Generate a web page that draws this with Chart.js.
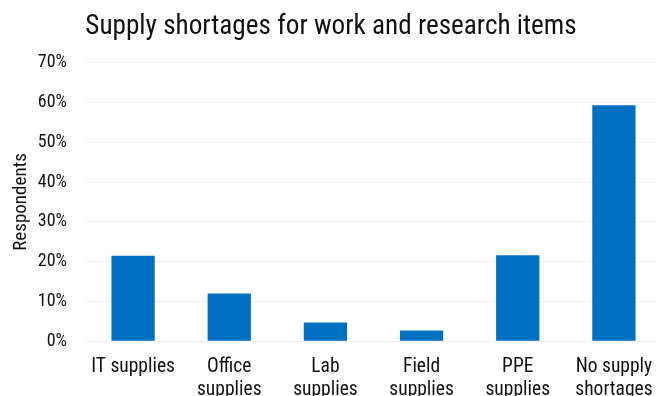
<!DOCTYPE html>
<html>
<head>
<meta charset="utf-8">
<script src="https://cdn.jsdelivr.net/npm/chart.js@4"></script>
<style>
  html, body { margin: 0; padding: 0; overflow: hidden; background: #fff; }
  #wrap { width: 662px; height: 416px; }
</style>
</head>
<body>
<div id="wrap"><canvas id="c"></canvas></div>
<script>
const categories = [
  ['IT supplies'],
  ['Office', 'supplies'],
  ['Lab', 'supplies'],
  ['Field', 'supplies'],
  ['PPE', 'supplies'],
  ['No supply', 'shortages']
];
const respondentShare = [21.5, 12.0, 4.7, 2.7, 21.6, 59.3];
const yTicks = [0, 10, 20, 30, 40, 50, 60, 70];

const FONT = "'Liberation Sans Narrow', 'Roboto Condensed', 'DejaVu Sans Condensed', Roboto, sans-serif";

new Chart(document.getElementById('c'), {
  type: 'bar',
  data: {
    labels: categories,
    datasets: [{
      data: respondentShare,
      backgroundColor: '#0070C0',
      borderWidth: 0,
      barPercentage: 0.45,
      categoryPercentage: 1.0
    }]
  },
  options: {
    responsive: true,
    maintainAspectRatio: false,
    animation: false,
    layout: { padding: { left: 0, right: 0, top: 11, bottom: 0 } },
    plugins: {
      legend: { display: false },
      tooltip: { enabled: false },
      title: {
        display: true,
        text: 'Supply shortages for work and research items',
        color: '#111',
        font: { family: FONT, size: 27.2, weight: 'normal' },
        padding: { top: 0, bottom: 19 }
      }
    },
    scales: {
      x: {
        afterFit: (axis) => { axis.paddingLeft = 0; axis.paddingRight = 0; },
        grid: { display: false, drawTicks: false },
        border: { display: false },
        ticks: {
          color: '#111',
          font: { family: FONT, size: 19.5, lineHeight: 1.2 },
          padding: 14,
          maxRotation: 0,
          autoSkip: false
        }
      },
      y: {
        min: 0,
        max: 70,
        afterBuildTicks: (axis) => { axis.ticks = yTicks.map(v => ({ value: v })); },
        afterFit: (axis) => { axis.width = 85; },
        grid: { color: '#EDEDED', lineWidth: 1, drawTicks: false },
        border: { display: false },
        ticks: {
          color: '#111',
          font: { family: FONT, size: 18 },
          padding: 18,
          callback: (v) => v + '%'
        },
        title: {
          display: true,
          text: 'Respondents',
          color: '#111',
          font: { family: FONT, size: 19 },
          padding: { top: 10, bottom: 0 }
        }
      }
    }
  }
});
</script>
</body>
</html>
